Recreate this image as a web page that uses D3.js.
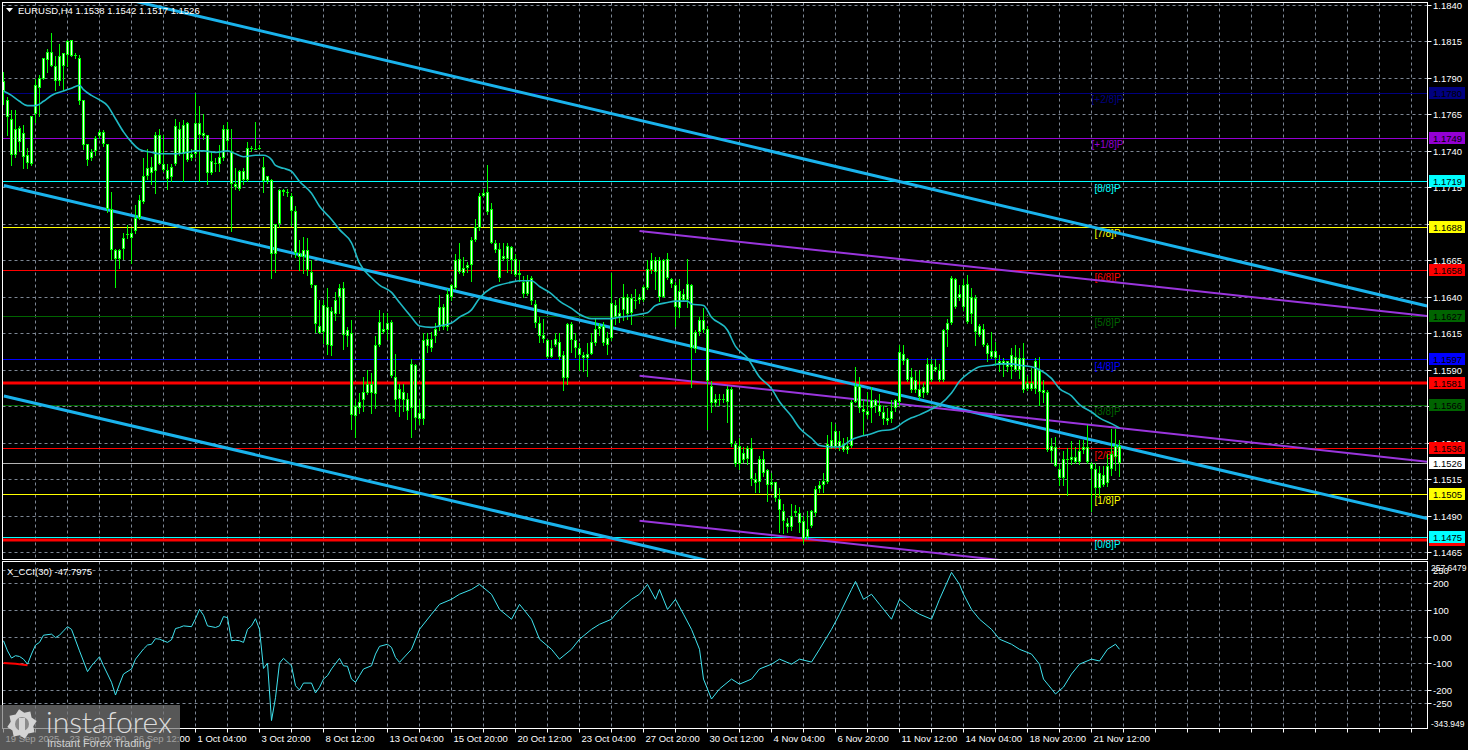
<!DOCTYPE html>
<html><head><meta charset="utf-8">
<script src="https://cdn.jsdelivr.net/npm/d3@7"></script>
<style>html,body{margin:0;padding:0;background:#000;overflow:hidden}text{font-family:"Liberation Sans",Arial,sans-serif}</style>
</head><body><svg id="c" width="1468" height="750"></svg>
<script>
// ---------- DATA ----------
const title = "EURUSD,H4  1.1538 1.1542 1.1517 1.1526";
const cciTitle = "X_CCI(30) -47.7975";
const opens = [1.1781,1.1775,1.1762,1.1737,1.1756,1.1752,1.1737,1.1731,1.1765,1.1783,
1.1789,1.1802,1.1808,1.1798,1.1788,1.1807,1.1806,1.1816,1.1806,1.1804,
1.1775,1.1745,1.1735,1.1740,1.1750,1.1753,1.1745,1.1700,1.1672,1.1666,
1.1673,1.1682,1.1680,1.1685,1.1694,1.1705,1.1723,1.1725,1.1726,1.1751,
1.1731,1.1727,1.1722,1.1731,1.1755,1.1738,1.1759,1.1735,1.1738,1.1759,
1.1752,1.1751,1.1725,1.1732,1.1731,1.1735,1.1755,1.1740,1.1717,1.1714,
1.1726,1.1720,1.1742,1.1741,1.1741,1.1729,1.1723,1.1720,1.1669,1.1690,
1.1713,1.1712,1.1709,1.1699,1.1670,1.1667,1.1672,1.1657,1.1648,1.1620,
1.1616,1.1633,1.1606,1.1628,1.1640,1.1646,1.1613,1.1615,1.1558,1.1564,
1.1569,1.1574,1.1580,1.1573,1.1607,1.1618,1.1617,1.1623,1.1585,1.1570,
1.1575,1.1570,1.1564,1.1593,1.1556,1.1556,1.1611,1.1605,1.1613,1.1619,
1.1633,1.1619,1.1640,1.1646,1.1666,1.1656,1.1660,1.1662,1.1679,1.1687,
1.1709,1.1712,1.1700,1.1677,1.1673,1.1666,1.1666,1.1674,1.1666,1.1655,
1.1650,1.1642,1.1653,1.1635,1.1622,1.1614,1.1610,1.1599,1.1607,1.1609,
1.1600,1.1584,1.1621,1.1610,1.1605,1.1600,1.1598,1.1601,1.1608,1.1618,
1.1620,1.1607,1.1612,1.1634,1.1626,1.1631,1.1640,1.1629,1.1638,1.1638,
1.1638,1.1646,1.1658,1.1665,1.1665,1.1640,1.1666,1.1652,1.1648,1.1632,
1.1642,1.1638,1.1648,1.1604,1.1616,1.1624,1.1618,1.1579,1.1567,1.1569,
1.1570,1.1568,1.1577,1.1539,1.1525,1.1533,1.1529,1.1536,1.1515,1.1513,
1.1529,1.1521,1.1511,1.1513,1.1501,1.1493,1.1485,1.1482,1.1493,1.1492,
1.1486,1.1475,1.1483,1.1492,1.1508,1.1511,1.1513,1.1537,1.1537,1.1541,
1.1539,1.1535,1.1538,1.1568,1.1579,1.1563,1.1559,1.1564,1.1569,1.1566,
1.1561,1.1555,1.1556,1.1564,1.1568,1.1601,1.1597,1.1585,1.1576,1.1577,
1.1574,1.1574,1.1594,1.1590,1.1590,1.1583,1.1617,1.1622,1.1652,1.1639,
1.1633,1.1649,1.1628,1.1639,1.1620,1.1618,1.1607,1.1603,1.1598,1.1596,
1.1593,1.1596,1.1592,1.1599,1.1590,1.1598,1.1577,1.1581,1.1577,1.1590,
1.1576,1.1575,1.1534,1.1537,1.1522,1.1516,1.1529,1.1528,1.1530,1.1527,
1.1535,1.1537,1.1525,1.1522,1.1509,1.1518,1.1512,1.1522,1.1530,1.1538];
const highs = [1.1794,1.1777,1.1768,1.1768,1.1757,1.1758,1.1742,1.1764,1.1789,1.1792,
1.1804,1.1810,1.1821,1.1805,1.1813,1.1807,1.1816,1.1816,1.1807,1.1806,
1.1775,1.1745,1.1741,1.1750,1.1754,1.1754,1.1745,1.1712,1.1673,1.1673,
1.1684,1.1689,1.1687,1.1703,1.1710,1.1735,1.1741,1.1736,1.1753,1.1755,
1.1751,1.1731,1.1731,1.1762,1.1760,1.1761,1.1760,1.1741,1.1780,1.1771,
1.1765,1.1751,1.1740,1.1735,1.1744,1.1758,1.1760,1.1755,1.1728,1.1727,
1.1728,1.1746,1.1743,1.1760,1.1744,1.1736,1.1723,1.1721,1.1690,1.1714,
1.1714,1.1714,1.1711,1.1702,1.1679,1.1681,1.1680,1.1665,1.1648,1.1638,
1.1638,1.1646,1.1633,1.1643,1.1649,1.1650,1.1619,1.1624,1.1569,1.1574,
1.1585,1.1590,1.1588,1.1613,1.1631,1.1629,1.1629,1.1624,1.1601,1.1580,
1.1580,1.1574,1.1597,1.1594,1.1569,1.1615,1.1615,1.1616,1.1622,1.1641,
1.1635,1.1645,1.1649,1.1669,1.1677,1.1667,1.1664,1.1681,1.1693,1.1711,
1.1714,1.1730,1.1704,1.1679,1.1677,1.1677,1.1677,1.1675,1.1669,1.1665,
1.1654,1.1655,1.1654,1.1638,1.1626,1.1625,1.1611,1.1610,1.1615,1.1615,
1.1603,1.1622,1.1623,1.1615,1.1608,1.1602,1.1608,1.1615,1.1625,1.1622,
1.1623,1.1616,1.1656,1.1638,1.1639,1.1649,1.1642,1.1642,1.1645,1.1642,
1.1648,1.1665,1.1670,1.1667,1.1667,1.1666,1.1670,1.1653,1.1650,1.1652,
1.1645,1.1666,1.1649,1.1617,1.1626,1.1632,1.1620,1.1582,1.1573,1.1573,
1.1573,1.1579,1.1578,1.1541,1.1543,1.1537,1.1538,1.1543,1.1519,1.1531,
1.1534,1.1522,1.1519,1.1513,1.1509,1.1498,1.1488,1.1498,1.1497,1.1496,
1.1490,1.1493,1.1494,1.1510,1.1514,1.1519,1.1545,1.1554,1.1553,1.1548,
1.1543,1.1544,1.1569,1.1592,1.1585,1.1570,1.1575,1.1578,1.1570,1.1573,
1.1565,1.1564,1.1569,1.1570,1.1607,1.1607,1.1598,1.1591,1.1589,1.1590,
1.1581,1.1598,1.1597,1.1597,1.1594,1.1618,1.1625,1.1654,1.1653,1.1648,
1.1652,1.1655,1.1646,1.1641,1.1621,1.1621,1.1608,1.1616,1.1609,1.1600,
1.1598,1.1596,1.1605,1.1607,1.1605,1.1608,1.1586,1.1591,1.1598,1.1599,
1.1583,1.1576,1.1543,1.1544,1.1525,1.1534,1.1536,1.1541,1.1537,1.1542,
1.1542,1.1552,1.1527,1.1526,1.1524,1.1524,1.1532,1.1549,1.1549,1.1542];
const lows = [1.1772,1.1751,1.1730,1.1736,1.1740,1.1728,1.1728,1.1730,1.1760,1.1764,
1.1789,1.1794,1.1798,1.1782,1.1785,1.1782,1.1798,1.1805,1.1804,1.1772,
1.1741,1.1730,1.1734,1.1737,1.1749,1.1743,1.1698,1.1666,1.1647,1.1660,
1.1666,1.1680,1.1663,1.1684,1.1693,1.1704,1.1721,1.1717,1.1711,1.1731,
1.1726,1.1714,1.1719,1.1730,1.1737,1.1719,1.1733,1.1734,1.1736,1.1719,
1.1748,1.1717,1.1724,1.1726,1.1726,1.1734,1.1740,1.1685,1.1714,1.1713,
1.1717,1.1719,1.1740,1.1741,1.1741,1.1712,1.1718,1.1653,1.1657,1.1688,
1.1710,1.1709,1.1689,1.1667,1.1658,1.1656,1.1655,1.1647,1.1616,1.1615,
1.1608,1.1601,1.1600,1.1624,1.1629,1.1604,1.1606,1.1549,1.1544,1.1560,
1.1562,1.1573,1.1560,1.1564,1.1606,1.1615,1.1611,1.1585,1.1562,1.1558,
1.1562,1.1556,1.1544,1.1549,1.1553,1.1553,1.1602,1.1603,1.1609,1.1617,
1.1618,1.1617,1.1638,1.1645,1.1656,1.1655,1.1657,1.1651,1.1678,1.1686,
1.1709,1.1697,1.1677,1.1671,1.1651,1.1665,1.1657,1.1656,1.1654,1.1651,
1.1640,1.1641,1.1635,1.1619,1.1609,1.1609,1.1599,1.1599,1.1606,1.1597,
1.1576,1.1580,1.1602,1.1599,1.1590,1.1589,1.1586,1.1601,1.1607,1.1614,
1.1607,1.1601,1.1610,1.1621,1.1623,1.1624,1.1625,1.1621,1.1632,1.1636,
1.1637,1.1645,1.1656,1.1645,1.1637,1.1640,1.1652,1.1647,1.1620,1.1626,
1.1637,1.1633,1.1578,1.1602,1.1614,1.1616,1.1549,1.1561,1.1565,1.1566,
1.1568,1.1554,1.1538,1.1524,1.1522,1.1527,1.1525,1.1511,1.1506,1.1506,
1.1517,1.1500,1.1509,1.1500,1.1479,1.1478,1.1479,1.1480,1.1490,1.1479,
1.1471,1.1474,1.1482,1.1490,1.1506,1.1506,1.1512,1.1536,1.1536,1.1535,
1.1534,1.1533,1.1537,1.1568,1.1561,1.1545,1.1557,1.1554,1.1561,1.1559,
1.1553,1.1553,1.1554,1.1562,1.1566,1.1594,1.1582,1.1575,1.1575,1.1570,
1.1571,1.1573,1.1582,1.1589,1.1582,1.1582,1.1606,1.1621,1.1632,1.1638,
1.1631,1.1622,1.1622,1.1607,1.1613,1.1606,1.1596,1.1598,1.1593,1.1589,
1.1586,1.1589,1.1584,1.1589,1.1584,1.1575,1.1576,1.1576,1.1574,1.1566,
1.1568,1.1534,1.1527,1.1524,1.1511,1.1511,1.1504,1.1525,1.1526,1.1525,
1.1533,1.1526,1.1493,1.1502,1.1504,1.1510,1.1510,1.1518,1.1521,1.1517];
const closes = [1.1788,1.1763,1.1737,1.1755,1.1746,1.1736,1.1732,1.1764,1.1785,1.1790,
1.1804,1.1808,1.1798,1.1788,1.1805,1.1798,1.1815,1.1805,1.1805,1.1774,
1.1744,1.1734,1.1739,1.1749,1.1753,1.1745,1.1700,1.1672,1.1666,1.1672,
1.1680,1.1683,1.1684,1.1694,1.1706,1.1723,1.1728,1.1729,1.1751,1.1731,
1.1727,1.1721,1.1729,1.1757,1.1738,1.1758,1.1734,1.1738,1.1759,1.1751,
1.1750,1.1725,1.1733,1.1731,1.1736,1.1755,1.1747,1.1717,1.1715,1.1726,
1.1720,1.1742,1.1741,1.1741,1.1742,1.1719,1.1719,1.1669,1.1690,1.1713,
1.1712,1.1711,1.1699,1.1670,1.1667,1.1672,1.1658,1.1648,1.1621,1.1615,
1.1634,1.1607,1.1630,1.1638,1.1646,1.1614,1.1617,1.1559,1.1565,1.1568,
1.1575,1.1580,1.1574,1.1607,1.1623,1.1616,1.1622,1.1586,1.1569,1.1577,
1.1569,1.1562,1.1594,1.1557,1.1560,1.1610,1.1606,1.1611,1.1618,1.1633,
1.1619,1.1642,1.1648,1.1665,1.1657,1.1660,1.1662,1.1679,1.1688,1.1709,
1.1711,1.1698,1.1677,1.1672,1.1653,1.1668,1.1675,1.1665,1.1655,1.1656,
1.1642,1.1651,1.1637,1.1622,1.1613,1.1611,1.1599,1.1605,1.1611,1.1599,
1.1584,1.1621,1.1610,1.1605,1.1600,1.1598,1.1601,1.1609,1.1618,1.1620,
1.1608,1.1612,1.1636,1.1626,1.1629,1.1640,1.1628,1.1639,1.1637,1.1640,
1.1647,1.1659,1.1665,1.1657,1.1640,1.1665,1.1653,1.1649,1.1633,1.1644,
1.1638,1.1649,1.1605,1.1616,1.1624,1.1617,1.1582,1.1567,1.1570,1.1570,
1.1569,1.1577,1.1539,1.1525,1.1538,1.1528,1.1536,1.1515,1.1512,1.1529,
1.1519,1.1511,1.1513,1.1502,1.1494,1.1486,1.1482,1.1490,1.1492,1.1485,
1.1474,1.1481,1.1493,1.1508,1.1511,1.1514,1.1539,1.1542,1.1548,1.1537,
1.1535,1.1538,1.1568,1.1579,1.1564,1.1561,1.1562,1.1569,1.1565,1.1561,
1.1556,1.1557,1.1562,1.1569,1.1602,1.1596,1.1583,1.1576,1.1583,1.1571,
1.1578,1.1594,1.1583,1.1592,1.1583,1.1617,1.1622,1.1653,1.1633,1.1642,
1.1648,1.1623,1.1640,1.1616,1.1614,1.1607,1.1601,1.1599,1.1603,1.1593,
1.1596,1.1592,1.1600,1.1590,1.1598,1.1576,1.1581,1.1577,1.1596,1.1575,
1.1574,1.1535,1.1538,1.1524,1.1516,1.1529,1.1528,1.1530,1.1527,1.1534,
1.1537,1.1527,1.1522,1.1509,1.1519,1.1511,1.1524,1.1532,1.1538,1.1526];

const maBars = [0,2,4,6,8,10,12,15,17,19,20,22,24,26,28,30,32,34,37,39,41,43,46,48,50,53,56,58,60,63,65,67,68,70,72,74,77,79,82,84,87,89,92,94,97,99,102,104,107,109,112,114,117,119,122,124,127,129,132,134,137,139,142,144,147,149,152,154,157,159,161,163,166,168,171,172,175,177,181,183,186,189,192,194,197,199,202,204,207,209,212,214,217,219,222,223,225,227,229,232,234,237,239,242,244,247,249,252,254,257,259,262,264,267,269,272,274,277,279];
const maValues = [1.1781,1.1778,1.1774,1.1771,1.1771,1.1774,1.1778,1.1781,1.1783,1.1785,1.1782,1.1778,1.1775,1.1771,1.1762,1.1753,1.1746,1.1741,1.1739,1.1738,1.1738,1.1738,1.1739,1.1740,1.1740,1.1739,1.1740,1.1738,1.1736,1.1737,1.1737,1.1734,1.1730,1.1728,1.1726,1.1719,1.1711,1.1702,1.1693,1.1686,1.1677,1.1663,1.1653,1.1648,1.1643,1.1636,1.1626,1.1620,1.1619,1.1620,1.1622,1.1626,1.1631,1.1639,1.1646,1.1648,1.1650,1.1651,1.1651,1.1647,1.1642,1.1637,1.1632,1.1628,1.1625,1.1625,1.1625,1.1626,1.1627,1.1628,1.1629,1.1634,1.1636,1.1637,1.1637,1.1635,1.1634,1.1626,1.1617,1.1606,1.1598,1.1585,1.1577,1.1568,1.1558,1.1550,1.1543,1.1538,1.1537,1.1537,1.1542,1.1544,1.1546,1.1548,1.1549,1.1550,1.1554,1.1557,1.1559,1.1563,1.1566,1.1574,1.1582,1.1589,1.1592,1.1593,1.1594,1.1594,1.1593,1.1592,1.1590,1.1584,1.1577,1.1572,1.1566,1.1561,1.1557,1.1553,1.1550];

const cciBars = [0,1,2,3,4,5,6,7,8,9,10,12,13,14,15,16,17,19,21,22,24,25,27,28,29,30,32,33,35,36,37,38,39,41,42,43,44,45,47,48,49,50,51,53,54,55,56,57,58,59,60,61,62,63,64,65,66,67,68,69,70,72,73,74,75,77,78,79,80,81,82,84,85,86,87,88,89,90,92,93,94,96,97,98,99,102,104,107,109,112,114,117,119,122,124,127,129,132,134,137,139,142,144,147,149,152,154,157,159,161,163,164,166,168,170,172,174,175,177,179,182,184,187,189,192,194,197,199,202,204,207,209,212,213,215,217,219,222,224,227,229,232,234,237,239,240,242,244,247,249,252,254,257,259,260,262,263,265,267,269,272,274,276,278,279];
const cciValues = [-16,-54,-81,-72,-75,-85,-104,-66,-32,-22,5,9,-4,5,21,37,27,-54,-132,-110,-76,-110,-172,-220,-179,-141,-122,-85,-47,-32,-29,-8,-10,-22,-12,30,34,40,37,67,102,80,40,34,40,75,71,-16,-14,-16,-22,27,40,67,27,-120,-100,-316,-230,-100,-82,-110,-185,-201,-175,-175,-212,-191,-160,-147,-122,-82,-110,-112,-160,-172,-147,-122,-110,-66,-37,-29,-41,-79,-97,-48,27,84,121,140,159,177,196,159,102,65,121,65,-10,-48,-85,-48,-10,27,46,65,102,140,159,196,140,177,102,140,84,27,-48,-160,-235,-197,-160,-179,-160,-122,-104,-85,-104,-85,-96,-48,27,84,177,207,140,159,121,65,140,102,84,65,140,241,196,159,102,65,27,-10,-29,-48,-66,-104,-160,-197,-216,-190,-141,-104,-85,-92,-48,-29,-48];
const cciSignalBars = [0,3,6];
const cciSignalValues = [-100,-102,-108];

const priceTicks = [1.1840,1.1815,1.1790,1.1765,1.1740,1.1715,1.1690,1.1665,1.1640,1.1615,1.1590,1.1565,1.1540,1.1515,1.1490,1.1465];
const cciTicks = [200,100,0,-100,-200,-250];
const cciTickLabels = ["200","100","0.00","-100","-200","-250"];
const cciRange = [-343.949, 257.6479];
const timeLabels = ["19 Sep 2025","23 Sep 20:00","26 Sep 12:00","1 Oct 04:00","3 Oct 20:00","8 Oct 12:00","13 Oct 04:00","15 Oct 20:00","20 Oct 12:00","23 Oct 04:00","27 Oct 20:00","30 Oct 12:00","4 Nov 04:00","6 Nov 20:00","11 Nov 12:00","14 Nov 04:00","18 Nov 20:00","21 Nov 12:00"];

const murreyPrices = [1.1780,1.1749,1.1719,1.1688,1.1658,1.1627,1.1597,1.1566,1.1536,1.1505,1.1475];
const murreyLabels = ["[+2/8]P","[+1/8]P","[8/8]P","[7/8]P","[6/8]P","[5/8]P","[4/8]P","[3/8]P","[2/8]P","[1/8]P","[0/8]P"];
const murreyColors = ["#000080","#9400d3","#00ffff","#ffff00","#ff0000","#006400","#0000ff","#006400","#ff0000","#ffff00","#00ffff"];
const thickRedLevels = [1.1581,1.1473];
const bidPrice = 1.1526;

const boxPrices=[1.1780,1.1749,1.1719,1.1688,1.1658,1.1627,1.1597,1.1581,1.1566,1.1536,1.1526,1.1505,1.1473,1.1475];
const boxColors=["#000080","#9400d3","#00ffff","#ffff00","#ff0000","#006400","#0000ff","#ff0000","#006400","#ff0000","#ffffff","#ffff00","#ff0000","#00ffff"];
const boxTextShown=[true,true,true,true,true,true,true,true,true,true,true,true,false,true];

const blueLineBars = [[31.6,355.9],[0.1,355.9],[0.1,355.9]];
const blueLinePrices = [[1.18434,1.16337],[1.17163,1.14880],[1.15720,1.13437]];
const purpleLineBars = [[159,355.9],[159,355.9],[159,355.9]];
const purpleLinePrices = [[1.16851,1.16268],[1.15859,1.15269],[1.14865,1.14275]];

// ---------- LAYOUT ----------
const W=1468,H=750;
const L=2.5,R=1427.5,mT=2.5,mB=559.5,cT=561.5,cB=728.5;
const FS="9.5px";
const svg=d3.select('#c');
svg.append('rect').attr('width',W).attr('height',H).attr('fill','#000');

const x=d3.scaleLinear().domain([0,100]).range([3.5,403.5]);
const y=d3.scaleLinear().domain([1.1465,1.1840]).range([552,5]);
const yc=d3.scaleLinear().domain(cciRange).range([728,568]);
const maxBar=Math.floor(x.invert(R));

const defs=svg.append('defs');
defs.append('clipPath').attr('id','cm').append('rect').attr('x',L).attr('y',mT).attr('width',R-L).attr('height',mB-mT);
defs.append('clipPath').attr('id','cc').append('rect').attr('x',L).attr('y',cT).attr('width',R-L).attr('height',cB-cT);

const gridCol="#7d8794";
const gm=svg.append('g').attr('clip-path','url(#cm)');
const gc=svg.append('g').attr('clip-path','url(#cc)');

// grid
priceTicks.forEach(p=>{
  const yy=Math.round(y(p))+0.5;
  gm.append('line').attr('x1',L).attr('x2',R).attr('y1',yy).attr('y2',yy).attr('stroke',gridCol).attr('stroke-dasharray','3,3');
});
[250,...cciTicks].forEach(v=>{
  const yy=Math.round(yc(v))+0.5;
  gc.append('line').attr('x1',L).attr('x2',R).attr('y1',yy).attr('y2',yy).attr('stroke',gridCol).attr('stroke-dasharray','3,3');
});
for(let b=8;b<=maxBar;b+=8){
  const xx=x(b);
  gm.append('line').attr('x1',xx).attr('x2',xx).attr('y1',mT).attr('y2',mB).attr('stroke',gridCol).attr('stroke-dasharray','3,3');
  gc.append('line').attr('x1',xx).attr('x2',xx).attr('y1',cT).attr('y2',cB).attr('stroke',gridCol).attr('stroke-dasharray','3,3');
}

// horizontal levels
murreyPrices.forEach((p,i)=>{
  const yy=Math.round(y(p))+0.5;
  gm.append('line').attr('x1',L).attr('x2',R).attr('y1',yy).attr('y2',yy).attr('stroke',murreyColors[i]).attr('stroke-width',1);
});
gm.append('line').attr('x1',L).attr('x2',R).attr('y1',Math.round(y(bidPrice))+0.5).attr('y2',Math.round(y(bidPrice))+0.5).attr('stroke','#b4b4b4');
thickRedLevels.forEach(p=>{
  const yy=Math.round(y(p));
  gm.append('line').attr('x1',L).attr('x2',R).attr('y1',yy).attr('y2',yy).attr('stroke','#ff0000').attr('stroke-width',3);
});

// Murrey labels
murreyPrices.forEach((p,i)=>{
  gm.append('text').attr('x',1107.5).attr('y',y(p)+10.5).attr('text-anchor','middle').attr('fill',murreyColors[i]).style('font-size','10px').text(murreyLabels[i]);
});

// trend channels
const segLine=d3.line().x(d=>x(d[0])).y(d=>y(d[1]));
blueLineBars.forEach((b,i)=>{
  gm.append('path').attr('d',segLine([[b[0],blueLinePrices[i][0]],[b[1],blueLinePrices[i][1]]])).attr('stroke','#1ab3ec').attr('stroke-width',3).attr('fill','none');
});
purpleLineBars.forEach((b,i)=>{
  gm.append('path').attr('d',segLine([[b[0],purpleLinePrices[i][0]],[b[1],purpleLinePrices[i][1]]])).attr('stroke','#9a35dd').attr('stroke-width',2).attr('fill','none');
});

// candles
const cg=gm.append('g');
closes.forEach((c,i)=>{
  const o=opens[i];
  const hi=Math.max(highs[i],o,c), lo=Math.min(lows[i],o,c);
  const xx=x(i);
  cg.append('line').attr('x1',xx).attr('x2',xx).attr('y1',Math.round(y(hi))).attr('y2',Math.round(y(lo))+1).attr('stroke','#00ff00');
  const top=Math.round(y(Math.max(o,c))), bot=Math.round(y(Math.min(o,c)));
  const h=Math.max(1,bot-top);
  cg.append('rect').attr('x',xx-1.5).attr('y',top).attr('width',3).attr('height',h).attr('fill','#00ff00');
  if(h>2) cg.append('rect').attr('x',xx-0.5).attr('y',top+1).attr('width',1).attr('height',h-2).attr('fill','#eaffea');
});

// moving average
gm.append('path').datum(maBars.map((b,i)=>[b,maValues[i]]))
  .attr('d',d3.line().x(d=>x(d[0])).y(d=>y(d[1])).curve(d3.curveMonotoneX))
  .attr('stroke','#1fb9c4').attr('stroke-width',1.6).attr('fill','none');

// CCI
gc.append('path').datum(cciBars.map((b,i)=>[b,cciValues[i]]))
  .attr('d',d3.line().x(d=>x(d[0])).y(d=>yc(d[1])))
  .attr('stroke','#3fe3ef').attr('stroke-width',1).attr('fill','none');
gc.append('path').datum(cciSignalBars.map((b,i)=>[b,cciSignalValues[i]]))
  .attr('d',d3.line().x(d=>x(d[0])).y(d=>yc(d[1])))
  .attr('stroke','#ff0000').attr('stroke-width',2).attr('fill','none');

// frames
svg.append('rect').attr('x',L).attr('y',mT).attr('width',R-L).attr('height',mB-mT).attr('fill','none').attr('stroke','#fff');
svg.append('rect').attr('x',L).attr('y',cT).attr('width',R-L).attr('height',cB-cT).attr('fill','none').attr('stroke','#fff');

// price axis (labels fully covered by a value box are not drawn)
priceTicks.forEach(p=>{
  const yy=Math.round(y(p))+0.5;
  svg.append('line').attr('x1',R).attr('x2',R+4).attr('y1',yy).attr('y2',yy).attr('stroke','#fff');
  const covered=boxPrices.some(bp=>Math.abs(y(bp)-y(p))<4);
  if(!covered) svg.append('text').attr('x',1433).attr('y',yy+3.5).attr('fill','#fff').style('font-size',FS).text(p.toFixed(4));
});
// value boxes
boxPrices.forEach((p,i)=>{
  const yy=Math.round(y(p));
  svg.append('rect').attr('x',1429).attr('y',yy-6).attr('width',36).attr('height',12).attr('fill',boxColors[i]);
  if(boxTextShown[i]) svg.append('text').attr('x',1433).attr('y',yy+4).attr('fill','#000').style('font-size',FS).text(p.toFixed(4));
});

// CCI axis
svg.append('text').attr('x',1433).attr('y',yc(250)+3.5).attr('fill','#fff').style('font-size',FS).text("250");
cciTicks.forEach((v,i)=>{
  const yy=Math.round(yc(v))+0.5;
  svg.append('line').attr('x1',R).attr('x2',R+4).attr('y1',yy).attr('y2',yy).attr('stroke','#fff');
  svg.append('text').attr('x',1433).attr('y',yy+3.5).attr('fill','#fff').style('font-size',FS).text(cciTickLabels[i]);
});
svg.append('text').attr('x',1431).attr('y',yc(cciRange[1])+3).attr('fill','#fff').style('font-size','8.5px').text(cciRange[1].toFixed(4));
svg.append('text').attr('x',1431).attr('y',yc(cciRange[0])-1).attr('fill','#fff').style('font-size','8.5px').text(cciRange[0].toFixed(3));

// time axis
for(let b=0;b<=maxBar;b+=8){
  svg.append('line').attr('x1',x(b)).attr('x2',x(b)).attr('y1',cB).attr('y2',cB+4).attr('stroke','#fff');
}
timeLabels.forEach((t,i)=>{
  svg.append('text').attr('x',x(i*16)+2).attr('y',742).attr('fill','#fff').style('font-size',FS).text(t);
});

// titles
svg.append('path').attr('d','M6,8 L13,8 L9.5,12 Z').attr('fill','#fff');
svg.append('text').attr('x',18).attr('y',14).attr('fill','#fff').style('font-size',FS).text(title);
svg.append('text').attr('x',7).attr('y',575).attr('fill','#fff').style('font-size',FS).text(cciTitle);

// watermark
const wm=svg.append('g');
wm.append('rect').attr('x',0).attr('y',705).attr('width',180).attr('height',45).attr('fill','rgba(120,120,120,0.72)');
const gear=d3.range(16).map(k=>{const a=k*Math.PI/8-Math.PI/16;const r=(k%2===0)?15:11.5;return [22+r*Math.cos(a),724+r*Math.sin(a)];});
wm.append('path').attr('d',d3.line().curve(d3.curveLinearClosed)(gear)).attr('fill','#d4d4d4');
wm.append('circle').attr('cx',22).attr('cy',724).attr('r',7).attr('fill','#8a8a8a');
wm.append('rect').attr('x',19).attr('y',718).attr('width',6).attr('height',14).attr('fill','#d4d4d4');
wm.append('text').attr('x',46).attr('y',733).attr('fill','#dcdcdc').style('font-family','Lato, "Open Sans", sans-serif').style('font-size','30px').style('font-weight','300').attr('textLength',126).attr('lengthAdjust','spacingAndGlyphs').text('instaforex');
wm.append('text').attr('x',47).attr('y',747).attr('fill','#d0d0d0').style('font-size','11px').text('Instant Forex Trading');
</script></body></html>
